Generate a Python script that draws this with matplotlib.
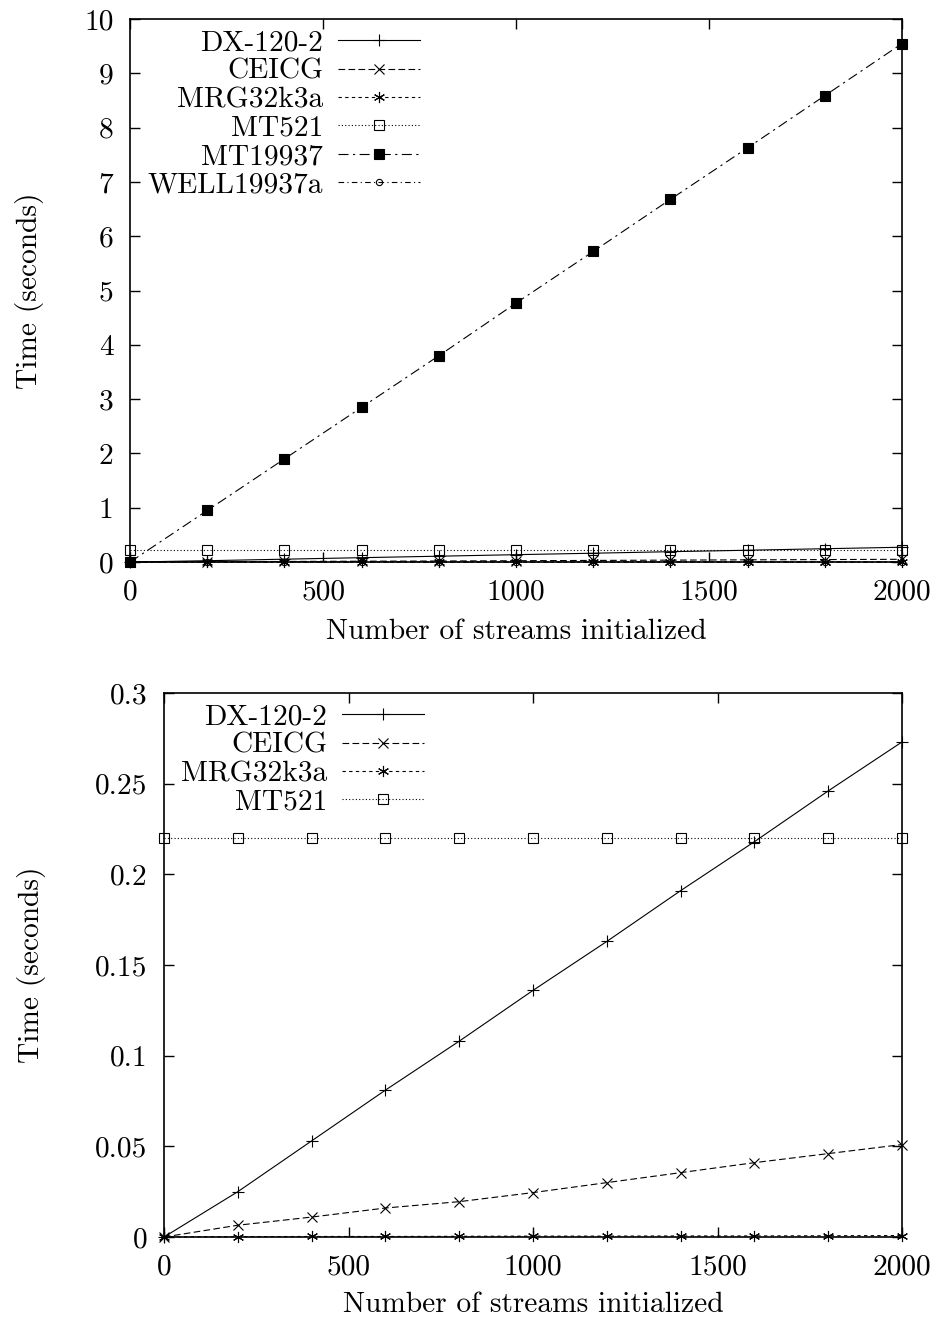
import matplotlib
matplotlib.use("Agg")
import matplotlib.pyplot as plt
from matplotlib.ticker import FuncFormatter, MultipleLocator

plt.rcParams['font.family'] = ['cmr10', 'DejaVu Serif']
plt.rcParams['axes.unicode_minus'] = False

# data: number of streams vs. time (seconds)
streams = [0, 200, 400, 600, 800, 1000, 1200, 1400, 1600, 1800, 2000]
dx120 = [0, 0.025, 0.053, 0.081, 0.108, 0.136, 0.163, 0.191, 0.218, 0.246, 0.273]
ceicg = [0, 0.0065, 0.011, 0.016, 0.0195, 0.0245, 0.030, 0.0355, 0.041, 0.046, 0.051]
mrg32k3a = [0, 0.0002, 0.0003, 0.0003, 0.0004, 0.0005, 0.0005, 0.0006, 0.0006, 0.0007, 0.0008]
mt521 = [0.22, 0.22, 0.22, 0.22, 0.22, 0.22, 0.22, 0.22, 0.22, 0.22, 0.22]
mt19937 = [0, 0.95, 1.90, 2.85, 3.80, 4.77, 5.72, 6.68, 7.63, 8.59, 9.55]
well19937a = [0, 0.001, 0.001, 0.001, 0.001, 0.001, 0.001, 0.001, 0.001, 0.001, 0.001]

FS = 21.2
LW = 0.8

styles = {
    "DX-120-2": dict(ls='-', marker='+', ms=8, mew=LW),
    "CEICG": dict(ls=(0, (6, 3)), marker='x', ms=6.5, mew=LW),
    "MRG32k3a": dict(ls=(0, (3, 3)), marker=(6, 2, 0), ms=8, mew=LW),
    "MT521": dict(ls=(0, (1, 2)), marker='s', ms=7, mfc='none', mew=LW),
    "MT19937": dict(ls=(0, (9, 4, 2, 4)), marker='s', ms=7.5, mfc='black', mew=LW),
    "WELL19937a": dict(ls=(0, (5, 3, 1, 3)), marker='o', ms=4.5, mfc='none', mew=LW),
}


def style_axes(ax, ymax, ystep):
    ax.set_xlim(0, 2000)
    ax.set_ylim(0, ymax)
    ax.xaxis.set_major_locator(MultipleLocator(500))
    ax.yaxis.set_major_locator(MultipleLocator(ystep))
    ax.yaxis.set_major_formatter(FuncFormatter(lambda v, p: '{:g}'.format(round(v, 6))))
    ax.tick_params(direction='in', length=7, width=1.0, top=True, right=True,
                   labelsize=FS, pad=12)
    for s in ax.spines.values():
        s.set_linewidth(1.2)
    ax.set_xlabel("Number of streams initialized", fontsize=FS, va='center')
    ax.set_ylabel("Time (seconds)", fontsize=FS, va='center')


def add_legend(ax):
    ax.legend(loc='upper left', bbox_to_anchor=(0.023, 0.98), frameon=False,
              markerfirst=False, fontsize=FS, handlelength=2.8, handletextpad=0.5,
              labelspacing=0.06, borderpad=0, borderaxespad=0)


fig = plt.figure(figsize=(9.41, 13.25), dpi=100)

# top panel: all six generators
ax1 = fig.add_axes([0.1382, 0.5758, 0.8204, 0.4098])
top_series = [("DX-120-2", dx120), ("CEICG", ceicg), ("MRG32k3a", mrg32k3a),
              ("MT521", mt521), ("MT19937", mt19937), ("WELL19937a", well19937a)]
for name, vals in top_series:
    ax1.plot(streams, vals, color='black', lw=LW, label=name, clip_on=False, **styles[name])
style_axes(ax1, 10, 1)
ax1.xaxis.set_label_coords(0.5, -0.129)
ax1.yaxis.set_label_coords(-0.13, 0.5)
add_legend(ax1)

# bottom panel: fast generators only
ax2 = fig.add_axes([0.1743, 0.0664, 0.7843, 0.4106])
for name, vals in top_series[:4]:
    ax2.plot(streams, vals, color='black', lw=LW, label=name, clip_on=False, **styles[name])
style_axes(ax2, 0.3, 0.05)
ax2.xaxis.set_label_coords(0.5, -0.125)
ax2.yaxis.set_label_coords(-0.18, 0.5)
add_legend(ax2)

fig.savefig("out.png", dpi=100)
